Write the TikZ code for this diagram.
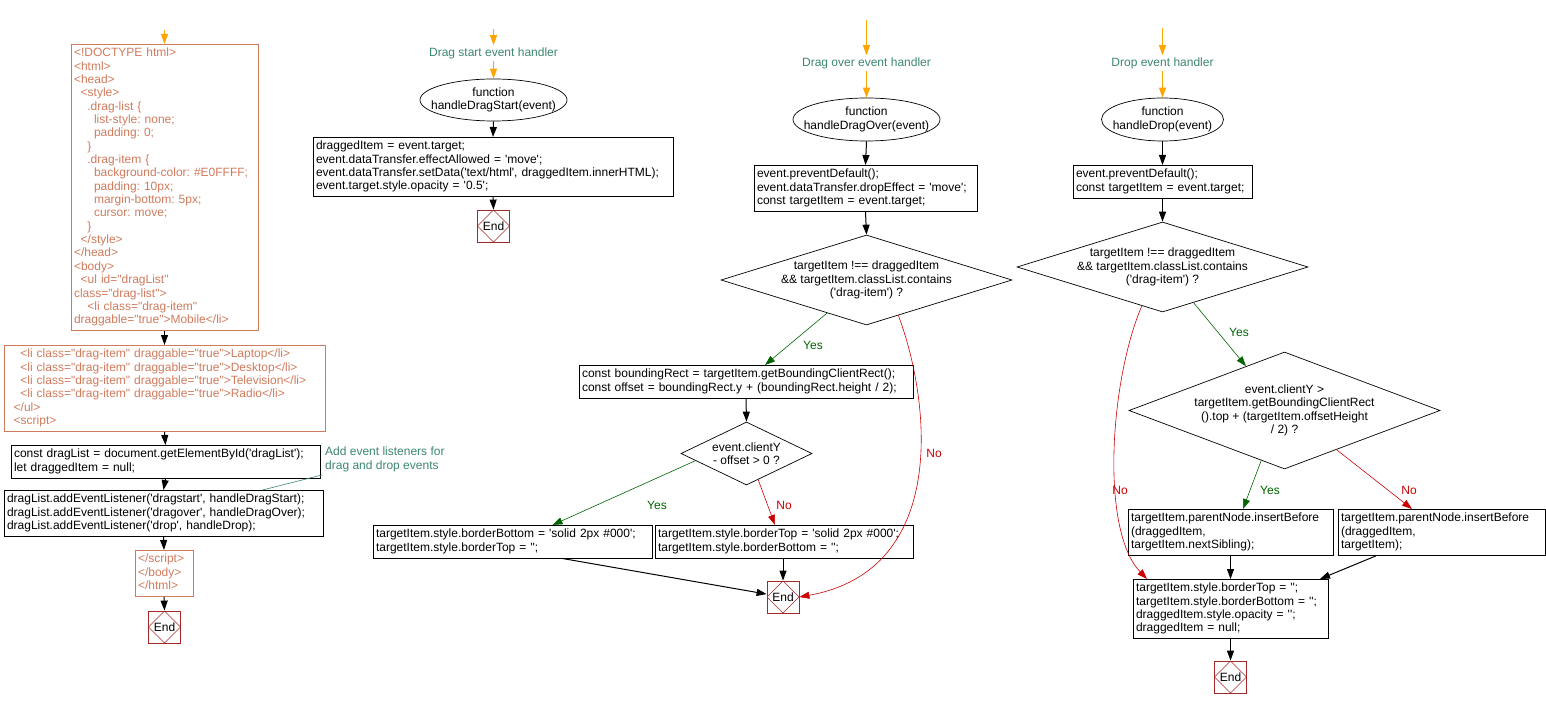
\documentclass[tikz,border=0pt]{standalone}
\usepackage{fontspec}
\newfontfamily\arial{Liberation Sans}[Ligatures=TeXOff]
\usepackage{xcolor}
\usetikzlibrary{arrows.meta,shapes.geometric,positioning}
\definecolor{htmlc}{RGB}{208,122,92}
\definecolor{notec}{RGB}{60,135,110}
\definecolor{yesc}{RGB}{0,100,0}
\definecolor{noc}{RGB}{204,0,0}
\definecolor{startc}{RGB}{255,165,0}
\definecolor{endc}{RGB}{165,40,40}
\newcommand\codetab[1]{\begin{tabular}{@{}l@{}}#1\end{tabular}}
\newcommand\zw[1]{\makebox[0pt]{#1}}
\newcommand\ind[1]{\hspace*{#1\fontdimen2\font}}
\frenchspacing

\begin{document}
\begin{tikzpicture}[x=1pt, y=-1pt, >={Triangle[length=10pt,width=7pt]},
    font=\arial\fontsize{12pt}{13.35pt}\selectfont]

    % Styles
    \tikzset{
        codebox/.style={draw, line width=0.8pt, anchor=north, align=left, inner sep=3pt, text width=#1},
        htmlbox/.style={codebox=#1, draw=htmlc, text=htmlc},
        func/.style={ellipse, draw, line width=0.7pt, inner sep=0pt, align=center},
        test/.style={diamond, draw, line width=0.7pt, inner sep=0pt, align=center},
        endbox/.style={draw=endc, line width=0.8pt, minimum size=32pt, inner sep=0pt,
            path picture={\draw[endc, line width=0.6pt] (path picture bounding box.north) -- (path picture bounding box.east)
                -- (path picture bounding box.south) -- (path picture bounding box.west) -- cycle;}},
        handler/.style={text=notec, inner sep=2pt},
        flow/.style={->, line width=1pt},
        startarrow/.style={->, startc, line width=1pt},
        yesline/.style={->, yesc, line width=0.6pt},
        noline/.style={->, noc, line width=0.6pt},
        yeslbl/.style={text=yesc},
        nolbl/.style={text=noc}
    }

    \useasboundingbox (0,0) rectangle (1546,708);

    % Coordinates
    \coordinate (s1) at (164.5,30);   % page entry
    \coordinate (s2) at (493.5,29);   % drag start entry
    \coordinate (s3) at (866.5,20);   % drag over entry
    \coordinate (s4) at (1162.5,28);  % drop entry

    % Page
    \node (html1) [htmlbox=181pt] at (164.5,44) {\codetab{<!DOCTYPE html>\\
        <html>\\
        <head>\\
        \ind{2}<style>\\
        \ind{4}.drag-list \{\\
        \ind{6}list-style: none;\\
        \ind{6}padding: 0;\\
        \ind{4}\}\\
        \ind{4}.drag-item \{\\
        \ind{6}background-color: \#E0FFFF;\\
        \ind{6}padding: 10px;\\
        \ind{6}margin-bottom: 5px;\\
        \ind{6}cursor: move;\\
        \ind{4}\}\\
        \ind{2}</style>\\
        </head>\\
        <body>\\
        \ind{2}<ul id="dragList"\\
        class="drag-list">\\
        \ind{4}<li class="drag-item"\\
        draggable="true">Mobile</li>}};
    \node (html2) [htmlbox=315pt] at (164.5,345) {\codetab{\ind{4}<li class="drag-item" draggable="true">Laptop</li>\\
        \ind{4}<li class="drag-item" draggable="true">Desktop</li>\\
        \ind{4}<li class="drag-item" draggable="true">Television</li>\\
        \ind{4}<li class="drag-item" draggable="true">Radio</li>\\
        \ind{2}</ul>\\
        \ind{2}<script>}};
    \node (getlist) [codebox=303pt] at (165.5,445) {\codetab{const dragList = document.getElementById('dragList');\\
        let draggedItem = null;}};
    \node (addlist) [codebox=313pt] at (163.5,490) {\codetab{dragList.addEventListener('dragstart', handleDragStart);\\
        dragList.addEventListener('dragover', handleDragOver);\\
        dragList.addEventListener('drop', handleDrop);}};
    \node (html3) [htmlbox=52pt] at (164,550) {\codetab{</script>\\</body>\\</html>}};
    \node (end1) [endbox] at (164.5,627) {End};

    \draw[startarrow] (s1) -- (html1.north);
    \draw[flow] (html1.south) -- (html2.north);
    \draw[flow] (html2.south) -- (getlist.north);
    \draw[flow] (getlist.south) -- (addlist.north);
    \draw[flow] (addlist.south) -- (html3.north);
    \draw[flow] (html3.south) -- (end1.north);

    % Note on the listeners
    \node (note) [handler, anchor=west, align=left, inner sep=3pt] at (322,459.5) {Add event listeners for\\drag and drop events};
    \draw[notec, line width=0.6pt] (note.south west) -- ([xshift=-61pt]addlist.north east);

    % Drag start event handler
    \node (t2) [handler] at (493.5,53) {Drag start event handler};
    \node (f2) [func, minimum width=147pt, minimum height=42pt] at (493.5,100) {\zw{function}\\\zw{handleDragStart(event)}};
    \node (ds) [codebox=354pt] at (493,137) {\codetab{draggedItem = event.target;\\
        event.dataTransfer.effectAllowed = 'move';\\
        event.dataTransfer.setData('text/html', draggedItem.innerHTML);\\
        event.target.style.opacity = '0.5';}};
    \node (end2) [endbox] at (493.5,226) {End};

    \draw[startarrow] (s2) -- (t2.north);
    \draw[startarrow] (t2.south) -- (f2.north);
    \draw[flow] (f2.south) -- (ds.north);
    \draw[flow] (ds.south) -- (end2.north);

    % Drag over event handler
    \node (t3) [handler] at (866.5,63) {Drag over event handler};
    \node (f3) [func, minimum width=147pt, minimum height=43pt] at (866.5,119.5) {\zw{function}\\\zw{handleDragOver(event)}};
    \node (ov1) [codebox=217pt] at (865.5,165) {\codetab{event.preventDefault();\\
        event.dataTransfer.dropEffect = 'move';\\
        const targetItem = event.target;}};
    \node (ov2) [test, minimum width=291pt, minimum height=90pt] at (866.5,280) {\zw{targetItem !== draggedItem}\\
        \zw{\&\& targetItem.classList.contains}\\\zw{('drag-item') ?}};
    \node (ov3) [codebox=328pt] at (746,365) {\codetab{const boundingRect = targetItem.getBoundingClientRect();\\
        const offset = boundingRect.y + (boundingRect.height / 2);}};
    \node (ov4) [test, minimum width=131pt, minimum height=63pt] at (746.5,453.5) {\zw{event.clientY}\\\zw{- offset > 0 ?}};
    \node (ov5) [codebox=273pt] at (512.5,525) {\codetab{targetItem.style.borderBottom = 'solid 2px \#000';\\
        targetItem.style.borderTop = '';}};
    \node (ov6) [codebox=252pt] at (784,525) {\codetab{targetItem.style.borderTop = 'solid 2px \#000';\\
        targetItem.style.borderBottom = '';}};
    \node (end3) [endbox] at (783,597) {End};

    \draw[startarrow] (s3) -- (t3.north);
    \draw[startarrow] (t3.south) -- (f3.north);
    \draw[flow] (f3.south) -- (ov1.north);
    \draw[flow] (ov1.south) -- (ov2.north);
    \draw[yesline] (ov2.220) -- ([xshift=19pt]ov3.north);
    \draw[noline] (ov2.-48) .. controls (930,400) and (950,570) .. (end3.east);
    \draw[flow] (ov3.south) -- (ov4.north);
    \draw[yesline] (ov4.-172) -- ([xshift=40pt]ov5.north);
    \draw[noline] (ov4.-66) -- ([xshift=-9pt]ov6.north);
    \draw[flow] ([xshift=50pt]ov5.south) -- (end3.170);
    \draw[flow] (end3 |- ov6.south) -- (end3.north);

    % Labels for the branches
    \node[yeslbl] at (813,345) {Yes};
    \node[nolbl] at (934,453) {No};
    \node[yeslbl] at (657,505) {Yes};
    \node[nolbl] at (784,505) {No};

    % Drop event handler
    \node (t4) [handler] at (1162.5,63) {Drop event handler};
    \node (f4) [func, minimum width=122pt, minimum height=43pt] at (1162.5,119.5) {\zw{function}\\\zw{handleDrop(event)}};
    \node (dr1) [codebox=173pt] at (1162.5,165) {\codetab{event.preventDefault();\\
        const targetItem = event.target;}};
    \node (dr2) [test, minimum width=291pt, minimum height=90pt] at (1162.5,267) {\zw{targetItem !== draggedItem}\\
        \zw{\&\& targetItem.classList.contains}\\\zw{('drag-item') ?}};
    \node (dr3) [test, minimum width=311pt, minimum height=117pt] at (1284.5,410.5) {\zw{event.clientY >}\\
        \zw{targetItem.getBoundingClientRect}\\\zw{().top + (targetItem.offsetHeight}\\\zw{/ 2) ?}};
    \node (dr4) [codebox=199pt] at (1230.5,509) {\codetab{targetItem.parentNode.insertBefore\\
        (draggedItem,\\
        targetItem.nextSibling);}};
    \node (dr6) [codebox=201pt] at (1441.5,509) {\codetab{targetItem.parentNode.insertBefore\\
        (draggedItem,\\
        targetItem);}};
    \node (dr5) [codebox=189pt] at (1230.5,579) {\codetab{targetItem.style.borderTop = '';\\
        targetItem.style.borderBottom = '';\\
        draggedItem.style.opacity = '';\\
        draggedItem = null;}};
    \node (end4) [endbox] at (1230.5,677) {End};

    \draw[startarrow] (s4) -- (t4.north);
    \draw[startarrow] (t4.south) -- (f4.north);
    \draw[flow] (f4.south) -- (dr1.north);
    \draw[flow] (dr1.south) -- (dr2.north);
    \draw[yesline] (dr2.-49) -- (dr3.131);
    \draw[noline] (dr2.-118) .. controls (1110,380) and (1100,530) .. ([xshift=-83.5pt]dr5.north);
    \draw[yesline] (dr3.-115) -- ([xshift=12.5pt]dr4.north);
    \draw[noline] (dr3.-37) -- ([xshift=-29.5pt]dr6.north);
    \draw[flow] (dr4.south) -- (dr5.north);
    \draw[flow] ([xshift=-65.5pt]dr6.south) -- ([xshift=89.5pt]dr5.north);
    \draw[flow] (dr5.south) -- (end4.north);

    % Labels for the branches
    \node[yeslbl] at (1239,332) {Yes};
    \node[nolbl] at (1120,490) {No};
    \node[yeslbl] at (1270,490) {Yes};
    \node[nolbl] at (1409,490) {No};

\end{tikzpicture}
\end{document}
